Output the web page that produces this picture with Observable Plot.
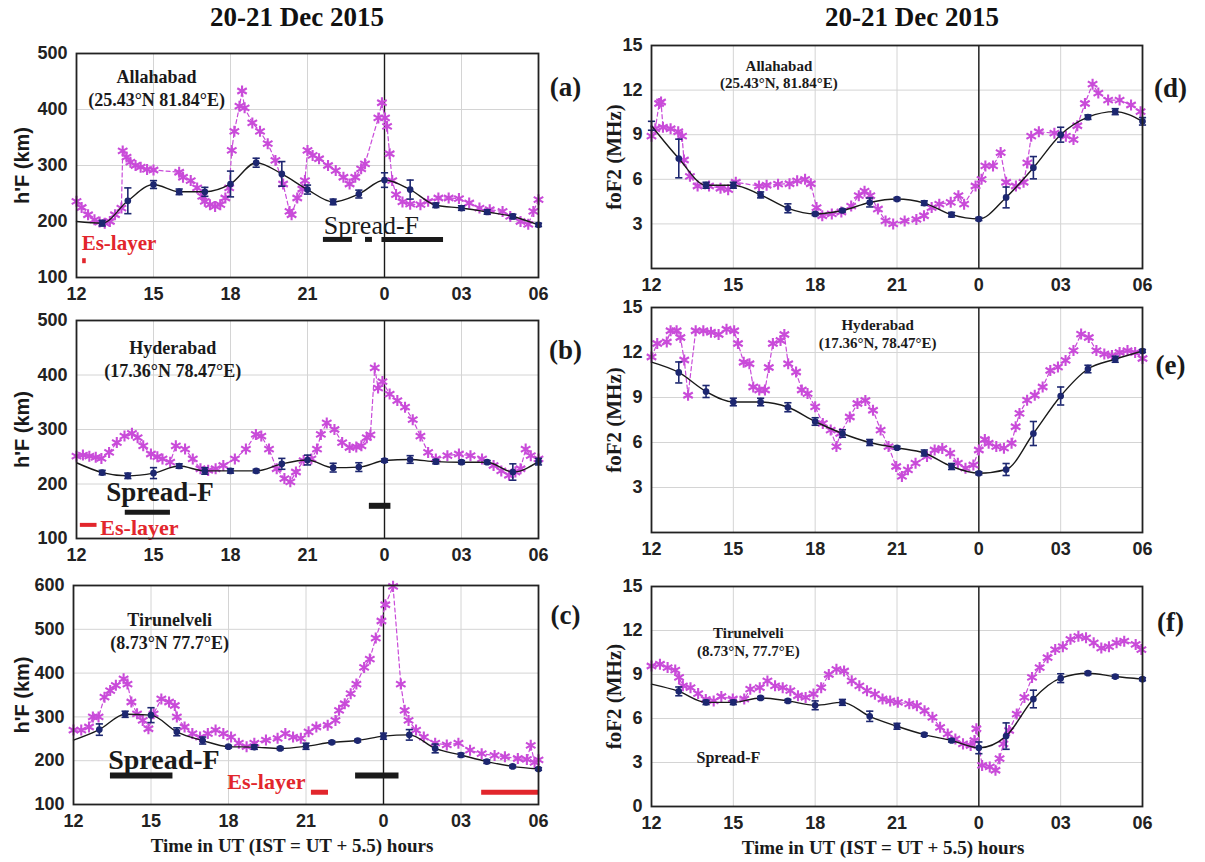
<!DOCTYPE html>
<html>
<head>
<meta charset="utf-8">
<script src="https://cdn.jsdelivr.net/npm/d3@7"></script>
<script src="https://cdn.jsdelivr.net/npm/@observablehq/plot@0.6"></script>
<style>
  body { margin: 0; background: #fff; }
  #fig { position: relative; width: 1205px; height: 862px; overflow: hidden; background: #fff; }
  .title { position: absolute; top: 2px; width: 400px; text-align: center;
           font: bold 27px "Liberation Serif", "Times New Roman", serif; color: #111; }
</style>
</head>
<body>
<div id="fig">
  <div class="title" style="left:97px">20-21 Dec 2015</div>
  <div class="title" style="left:712px">20-21 Dec 2015</div>
</div>
<script>
// ---- time axis: hours UT from 12 UT (20 Dec) to 06 UT (21 Dec) ----
const hours = [12, 13, 14, 15, 16, 17, 18, 19, 20, 21, 22, 23, 24, 25, 26, 27, 28, 29, 30];
const tickHours = [12, 15, 18, 21, 24, 27, 30];
const tickLabels = ["12", "15", "18", "21", "0", "03", "06"];

// ---- h'F (km): storm-day observations [hour, value] ----
const hfAllahabad = [[12.0,236],[12.2,225],[12.45,212],[12.7,203],[12.9,199],[13.1,197],[13.3,200],[13.5,212],[13.75,224],[13.8,326],[13.95,315],[14.1,306],[14.3,300],[14.5,297],[14.75,293],[15.0,292],[16.0,288],[16.15,279],[16.45,273],[16.7,260],[16.9,245],[17.0,236],[17.2,230],[17.4,227],[17.6,230],[17.8,242],[17.95,260],[18.05,327],[18.15,361],[18.35,406],[18.45,433],[18.55,403],[18.85,376],[19.15,361],[19.45,339],[19.75,309],[20.05,267],[20.3,218],[20.38,212],[20.6,242],[20.8,258],[20.9,273],[21.0,327],[21.2,318],[21.45,312],[21.8,300],[22.1,291],[22.4,279],[22.64,267],[22.86,279],[23.09,294],[23.24,303],[23.76,385],[23.9,412],[24.02,385],[24.1,370],[24.2,321],[24.3,273],[24.45,248],[24.7,235],[25.0,231],[25.4,230],[25.7,236],[26.1,242],[26.5,242],[26.9,241],[27.3,233],[27.7,224],[28.1,221],[28.6,218],[28.9,209],[29.3,200],[29.6,195],[29.8,218],[30.0,239]];
const hfHyderabad = [[12.0,251],[12.25,253],[12.5,251],[12.75,249],[12.97,247],[13.27,258],[13.57,276],[13.87,288],[14.16,293],[14.38,285],[14.6,270],[14.9,255],[15.15,250],[15.35,246],[15.65,240],[15.87,270],[16.23,264],[16.53,246],[16.83,228],[17.13,225],[17.42,228],[17.72,234],[18.17,246],[18.6,264],[18.99,291],[19.2,288],[19.5,264],[19.8,228],[20.1,210],[20.33,204],[20.55,222],[20.85,243],[21.15,246],[21.37,264],[21.52,291],[21.75,312],[22.05,300],[22.35,276],[22.64,267],[22.9,268],[23.1,270],[23.31,285],[23.45,290],[23.62,413],[23.75,376],[23.92,388],[24.2,365],[24.5,353],[24.8,341],[25.1,318],[25.4,288],[25.7,258],[26.0,246],[26.45,252],[26.9,255],[27.35,252],[27.8,246],[28.25,234],[28.55,224],[28.85,216],[29.1,222],[29.3,228],[29.5,264],[29.7,252],[30.0,246]];
const hfTirunelveli = [[12.0,270],[12.3,270],[12.6,277],[12.75,300],[12.97,300],[13.2,345],[13.42,360],[13.64,372],[13.94,387],[14.09,375],[14.24,334],[14.46,307],[14.68,292],[14.9,273],[15.1,307],[15.4,341],[15.7,334],[15.92,326],[16.0,300],[16.3,277],[16.6,262],[16.9,254],[17.2,262],[17.5,270],[17.8,262],[18.1,254],[18.4,240],[18.7,232],[19.0,240],[19.45,247],[19.9,251],[20.2,262],[20.5,254],[20.8,251],[21.1,266],[21.4,277],[21.84,281],[22.14,292],[22.28,315],[22.5,330],[22.73,353],[22.95,375],[23.25,413],[23.47,432],[23.7,480],[23.92,519],[24.07,556],[24.37,598],[24.67,375],[24.82,315],[24.97,292],[25.26,270],[25.56,254],[26.0,240],[26.45,236],[26.9,240],[27.35,224],[27.8,216],[28.3,212],[28.7,209],[29.2,205],[29.55,203],[29.7,235],[29.85,196],[30.0,202]];

// ---- h'F (km): quiet-day hourly mean and spread ----
const hfAllahabadMean = [200,197,237,266,253,253,267,305,285,257,235,249,274,257,229,224,217,209,194];
const hfAllahabadErr  = [0,5,23,7,5,8,23,8,22,8,5,7,13,17,4,4,4,4,3];
const hfHyderabadMean = [239,221,215,220,233,224,224,224,237,244,230,231,243,245,241,240,240,222,241];
const hfHyderabadErr  = [0,4,5,10,4,6,4,3,10,9,8,8,3,7,4,3,3,15,6];
const hfTirunelveliMean = [247,271,306,304,266,246,232,231,228,233,242,246,256,259,228,213,198,187,181];
const hfTirunelveliErr  = [0,13,7,17,9,8,3,5,3,7,3,3,7,12,10,4,4,3,3];

// ---- foF2 (MHz): storm-day observations [hour, value] ----
const foAllahabad = [[12.0,8.9],[12.14,9.4],[12.28,11.1],[12.35,11.2],[12.42,9.5],[12.7,9.4],[12.98,9.2],[13.12,8.9],[13.19,7.3],[13.41,6.2],[13.69,5.55],[14.11,5.55],[14.53,5.4],[14.81,5.3],[15.09,5.8],[15.94,5.55],[16.22,5.6],[16.64,5.67],[17.06,5.7],[17.34,5.9],[17.63,6.0],[17.84,5.7],[18.05,4.1],[18.26,3.55],[18.61,3.67],[18.96,3.8],[19.32,4.2],[19.6,4.9],[19.81,5.2],[20.02,4.9],[20.3,4.0],[20.58,3.2],[20.86,3.0],[21.28,3.2],[21.71,3.3],[21.99,3.55],[22.27,4.1],[22.55,4.33],[22.97,4.45],[23.25,4.9],[23.46,4.33],[23.88,5.55],[24.1,6.0],[24.24,6.9],[24.52,6.9],[24.8,7.8],[25.0,5.8],[25.36,5.55],[25.64,5.8],[25.78,7.1],[25.92,8.9],[26.2,9.2],[26.77,9.1],[27.19,8.9],[27.47,8.67],[27.61,9.6],[27.89,11.1],[28.17,12.4],[28.38,11.8],[28.74,11.33],[29.16,11.33],[29.58,11.0],[29.93,10.55]];
const foHyderabad = [[12.0,11.7],[12.21,12.6],[12.56,12.7],[12.7,13.45],[12.92,13.45],[13.06,13.0],[13.2,11.5],[13.34,9.15],[13.62,13.45],[13.9,13.45],[14.18,13.35],[14.46,13.2],[14.75,13.55],[15.03,13.45],[15.17,12.6],[15.38,11.35],[15.59,11.25],[15.73,9.7],[15.95,9.5],[16.16,9.5],[16.3,11.0],[16.45,12.6],[16.73,12.8],[16.87,13.2],[17.01,11.25],[17.3,10.7],[17.51,9.5],[17.72,9.26],[18.0,8.38],[18.28,7.27],[18.57,6.83],[18.78,5.73],[18.92,6.6],[19.27,7.7],[19.55,8.6],[19.84,8.8],[20.12,8.15],[20.4,6.83],[20.69,5.73],[20.97,4.4],[21.18,3.74],[21.4,4.18],[21.68,4.62],[22.1,5.07],[22.38,5.5],[22.66,5.6],[22.95,5.29],[23.23,4.62],[23.51,4.29],[23.8,4.5],[24.0,5.5],[24.22,6.2],[24.36,5.95],[24.64,5.73],[24.92,5.62],[25.2,5.95],[25.35,7.05],[25.49,7.94],[25.77,8.82],[26.05,9.15],[26.34,9.7],[26.62,10.8],[26.9,11.03],[27.18,11.47],[27.47,12.13],[27.75,13.23],[28.03,13.0],[28.31,12.13],[28.6,11.9],[28.88,11.8],[29.16,12.0],[29.45,12.13],[29.73,12.0],[30.0,11.6]];
const foTirunelveli = [[12.0,9.58],[12.31,9.7],[12.59,9.47],[12.87,9.3],[13.01,8.8],[13.15,8.23],[13.43,8.1],[13.71,7.7],[13.99,7.3],[14.28,7.2],[14.56,7.5],[14.98,7.33],[15.4,7.33],[15.62,8.0],[15.97,8.1],[16.25,8.56],[16.53,8.23],[16.81,8.1],[17.09,7.9],[17.37,7.55],[17.65,7.44],[17.94,7.67],[18.22,8.1],[18.5,9.0],[18.78,9.35],[19.06,9.24],[19.34,8.57],[19.62,8.23],[19.9,7.9],[20.19,7.66],[20.47,7.33],[20.75,7.2],[21.03,7.1],[21.45,7.0],[21.73,6.87],[22.01,6.53],[22.3,6.08],[22.58,5.4],[22.86,4.95],[23.14,4.6],[23.42,4.27],[23.7,4.16],[23.84,4.5],[23.91,5.3],[24.12,2.8],[24.4,2.7],[24.61,2.47],[24.76,3.26],[24.9,4.27],[25.11,5.18],[25.39,6.3],[25.67,7.44],[25.95,8.8],[26.23,9.47],[26.52,10.15],[26.8,10.7],[27.08,10.9],[27.36,11.4],[27.65,11.6],[27.93,11.5],[28.21,11.16],[28.49,10.8],[28.77,10.9],[29.05,11.16],[29.33,11.27],[29.75,11.05],[29.96,10.7]];

// ---- foF2 (MHz): quiet-day hourly mean and spread ----
const foAllahabadMean = [9.6,7.4,5.6,5.6,4.95,4.05,3.67,3.9,4.44,4.67,4.4,3.62,3.33,4.78,6.78,9.0,10.18,10.55,9.9];
const foAllahabadErr  = [0.3,1.3,0.2,0.2,0.2,0.3,0.1,0.1,0.3,0.1,0.15,0.15,0.1,0.7,0.75,0.5,0.15,0.2,0.25];
const foHyderabadMean = [11.36,10.67,9.4,8.7,8.7,8.35,7.4,6.6,6.0,5.65,5.3,4.4,3.95,4.2,6.6,9.1,10.9,11.55,12.1];
const foHyderabadErr  = [0,0.7,0.4,0.25,0.25,0.3,0.25,0.25,0.2,0.1,0.2,0.2,0.1,0.4,0.8,0.6,0.25,0.2,0.1];
const foTirunelveliMean = [8.34,7.85,7.1,7.1,7.4,7.2,6.9,7.1,6.15,5.47,4.9,4.5,4.0,4.8,7.33,8.75,9.09,8.86,8.68];
const foTirunelveliErr  = [0,0.3,0.15,0.15,0.1,0.1,0.3,0.2,0.35,0.2,0.1,0.1,0.4,0.9,0.6,0.3,0.1,0.1,0.1];

// ---- occurrence intervals [start hour, end hour] ----
const spreadFAllahabad = [[21.62,22.75],[23.26,23.53],[23.9,26.3]];
const esLayerAllahabad = [[12.24,12.38]];
const spreadFHyderabad = [[13.9,15.66]];
const spreadFHyderabadNight = [[23.41,24.25]];
const esLayerHyderabad = [[12.15,12.8]];
const spreadFTirunelveli = [[13.43,15.85],[22.92,24.6]];
const esLayerTirunelveli = [[21.21,21.87],[27.8,30.0]];

// ---- styling ----
const SERIF = "Liberation Serif, Times New Roman, serif";
const SANS = "Liberation Sans, Arial, sans-serif";
const MAGENTA = "#c94bd9";
const NAVY = "#1d2770";
const RED = "#e2262c";
const GRID = "#d4d4d4";
const INK = "#1a1a1a";

// horizontal cap for error bars
const cap = { draw(ctx, size) { const w = Math.sqrt(size / Math.PI); ctx.moveTo(-w, 0); ctx.lineTo(w, 0); } };

const fig = document.getElementById("fig");

function drawPanel(p) {
  const f = p.frame;
  const mt = 12, mb = p.bottomRow ? 66 : 34;
  const meanRows = p.mean.map((v, i) => ({t: hours[i], v, e: p.err[i]}));
  const errRows = meanRows.filter(d => d.e > 0);
  const txt = {fontFamily: SERIF, fontWeight: "bold", fill: INK};
  const marks = [
    Plot.gridX(tickHours, {stroke: GRID, strokeOpacity: 1, strokeWidth: 1}),
    Plot.gridY(p.yTicks, {stroke: GRID, strokeOpacity: 1, strokeWidth: 1}),
    Plot.ruleX([24], {stroke: INK, strokeWidth: 1.4}),
    ...p.extra,
    Plot.line(p.obs, {x: d => d[0], y: d => d[1], stroke: MAGENTA, strokeWidth: 1.2, strokeDasharray: "4,3"}),
    Plot.dot(p.obs, {x: d => d[0], y: d => d[1], symbol: "asterisk", r: 5.2, stroke: MAGENTA, strokeWidth: 2.1}),
    Plot.line(meanRows, {x: "t", y: "v", stroke: INK, strokeWidth: 1.4, curve: "monotone-x"}),
    Plot.ruleX(errRows, {x: "t", y1: d => d.v - d.e, y2: d => d.v + d.e, stroke: NAVY, strokeWidth: 1.6}),
    Plot.dot(errRows, {x: "t", y: d => d.v + d.e, symbol: cap, r: 3.6, fill: "none", stroke: NAVY, strokeWidth: 1.6}),
    Plot.dot(errRows, {x: "t", y: d => d.v - d.e, symbol: cap, r: 3.6, fill: "none", stroke: NAVY, strokeWidth: 1.6}),
    Plot.dot(meanRows.slice(1), {x: "t", y: "v", r: 2.6, fill: NAVY, stroke: NAVY}),
    Plot.frame({stroke: "#222", strokeWidth: 1.8}),
    Plot.axisX(tickHours, {tickSize: 0, tickPadding: 10, tickFormat: t => tickLabels[tickHours.indexOf(t)],
      fontSize: 18, fontWeight: "bold", fontFamily: SANS, fill: "#222", label: null}),
    Plot.axisY(p.yTicks, {tickSize: 0, tickPadding: 9, fontSize: 18, fontWeight: "bold", fontFamily: SANS, fill: "#222", label: null}),
    Plot.text([p.yLabel], {frameAnchor: "left", dx: p.yLabelDx, rotate: -90, textAnchor: "middle", lineAnchor: "middle",
      fontSize: p.yLabelSize, fontWeight: "bold", fontFamily: p.yLabelFont, fill: INK}),
    Plot.text([p.letter], {frameAnchor: "top-right", dx: p.letterDx, dy: p.letterDy, textAnchor: "middle", lineAnchor: "middle",
      fontSize: 27, ...txt}),
    Plot.text([p.station], {x: p.stationAt[0], y: p.stationAt[1], lineAnchor: "middle", lineHeight: p.stationLine,
      fontSize: p.stationSize, ...txt})
  ];
  if (p.bottomRow) {
    marks.push(Plot.text(["Time in UT (IST = UT + 5.5) hours"], {frameAnchor: "bottom", dy: 41, dx: -14,
      lineAnchor: "middle", fontSize: 19, ...txt}));
  }
  const chart = Plot.plot({
    width: p.svgWidth,
    height: f.bottom - f.top + mt + mb,
    marginLeft: f.left - p.svgLeft,
    marginRight: p.svgLeft + p.svgWidth - f.right,
    marginTop: mt,
    marginBottom: mb,
    x: {domain: [12, 30]},
    y: {domain: p.yDomain},
    style: {fontFamily: SANS, background: "transparent", overflow: "visible"},
    marks
  });
  chart.style.position = "absolute";
  chart.style.left = p.svgLeft + "px";
  chart.style.top = (f.top - mt) + "px";
  fig.appendChild(chart);
}

const bar = (rows, y, color, w) => Plot.ruleY(rows, {x1: d => d[0], x2: d => d[1], y, stroke: color, strokeWidth: w});
const label = (s, x, y, o) => Plot.text([s], {x, y, fontFamily: SERIF, ...o});

// (a) Allahabad h'F
drawPanel({
  frame: {left: 76, right: 538, top: 53, bottom: 277}, svgLeft: 0, svgWidth: 600,
  obs: hfAllahabad, mean: hfAllahabadMean, err: hfAllahabadErr,
  yDomain: [100, 500], yTicks: [100, 200, 300, 400, 500],
  yLabel: "h'F (km)", yLabelFont: SANS, yLabelSize: 20, yLabelDx: -54,
  letter: "(a)", letterDx: 27, letterDy: 34,
  station: "Allahabad\n(25.43°N 81.84°E)", stationAt: [15.12, 440], stationSize: 18, stationLine: 1.3,
  extra: [
    bar(spreadFAllahabad, 168, INK, 5),
    label("Spread-F", 23.49, 192, {fontSize: 26, fill: INK}),
    bar(esLayerAllahabad, 130, RED, 5),
    label("Es-layer", 12.2, 162, {fontSize: 21, fontWeight: "bold", fill: RED, textAnchor: "start"})
  ]
});

// (b) Hyderabad h'F
drawPanel({
  frame: {left: 76, right: 538, top: 320, bottom: 538}, svgLeft: 0, svgWidth: 600,
  obs: hfHyderabad, mean: hfHyderabadMean, err: hfHyderabadErr,
  yDomain: [100, 500], yTicks: [100, 200, 300, 400, 500],
  yLabel: "h'F (km)", yLabelFont: SANS, yLabelSize: 20, yLabelDx: -54,
  letter: "(b)", letterDx: 27, letterDy: 30,
  station: "Hyderabad\n(17.36°N 78.47°E)", stationAt: [15.75, 431], stationSize: 18, stationLine: 1.3,
  extra: [
    bar(spreadFHyderabad, 148, INK, 5),
    bar(spreadFHyderabadNight, 160, INK, 6),
    label("Spread-F", 15.25, 185, {fontSize: 27, fontWeight: "bold", fill: INK}),
    bar(esLayerHyderabad, 125, RED, 4),
    label("Es-layer", 12.93, 119, {fontSize: 22, fontWeight: "bold", fill: RED, textAnchor: "start"})
  ]
});

// (c) Tirunelveli h'F
drawPanel({
  frame: {left: 73, right: 538, top: 585, bottom: 804}, svgLeft: 0, svgWidth: 600, bottomRow: true,
  obs: hfTirunelveli, mean: hfTirunelveliMean, err: hfTirunelveliErr,
  yDomain: [100, 600], yTicks: [100, 200, 300, 400, 500, 600],
  yLabel: "h'F (km)", yLabelFont: SANS, yLabelSize: 20, yLabelDx: -51,
  letter: "(c)", letterDx: 27, letterDy: 30,
  station: "Tirunelveli\n(8.73°N 77.7°E)", stationAt: [15.72, 499], stationSize: 18, stationLine: 1.3,
  extra: [
    bar(spreadFTirunelveli, 166, INK, 6),
    label("Spread-F", 15.5, 202, {fontSize: 28, fontWeight: "bold", fill: INK}),
    bar(esLayerTirunelveli, 128, RED, 5),
    label("Es-layer", 20.98, 151, {fontSize: 22, fontWeight: "bold", fill: RED, textAnchor: "end"})
  ]
});

// (d) Allahabad foF2
drawPanel({
  frame: {left: 651, right: 1142, top: 45, bottom: 268}, svgLeft: 600, svgWidth: 605,
  obs: foAllahabad, mean: foAllahabadMean, err: foAllahabadErr,
  yDomain: [0, 15], yTicks: [3, 6, 9, 12, 15],
  yLabel: "foF2 (MHz)", yLabelFont: SERIF, yLabelSize: 21, yLabelDx: -37,
  letter: "(d)", letterDx: 28, letterDy: 43,
  station: "Allahabad\n(25.43°N, 81.84°E)", stationAt: [16.67, 13.1], stationSize: 15, stationLine: 1.2,
  extra: []
});

// (e) Hyderabad foF2
drawPanel({
  frame: {left: 651, right: 1142, top: 307, bottom: 532}, svgLeft: 600, svgWidth: 605,
  obs: foHyderabad, mean: foHyderabadMean, err: foHyderabadErr,
  yDomain: [0, 15], yTicks: [3, 6, 9, 12, 15],
  yLabel: "foF2 (MHz)", yLabelFont: SERIF, yLabelSize: 21, yLabelDx: -37,
  letter: "(e)", letterDx: 28, letterDy: 58,
  station: "Hyderabad\n(17.36°N, 78.47°E)", stationAt: [20.29, 13.3], stationSize: 15, stationLine: 1.2,
  extra: []
});

// (f) Tirunelveli foF2
drawPanel({
  frame: {left: 651, right: 1142, top: 586, bottom: 806}, svgLeft: 600, svgWidth: 605, bottomRow: true,
  obs: foTirunelveli, mean: foTirunelveliMean, err: foTirunelveliErr,
  yDomain: [0, 15], yTicks: [0, 3, 6, 9, 12, 15],
  yLabel: "foF2 (MHz)", yLabelFont: SERIF, yLabelSize: 21, yLabelDx: -37,
  letter: "(f)", letterDx: 28, letterDy: 36,
  station: "Tirunelveli\n(8.73°N, 77.7°E)", stationAt: [15.55, 11.3], stationSize: 15, stationLine: 1.2,
  extra: [
    label("Spread-F", 14.82, 3.3, {fontSize: 16, fontWeight: "bold", fill: INK})
  ]
});
</script>
</body>
</html>
